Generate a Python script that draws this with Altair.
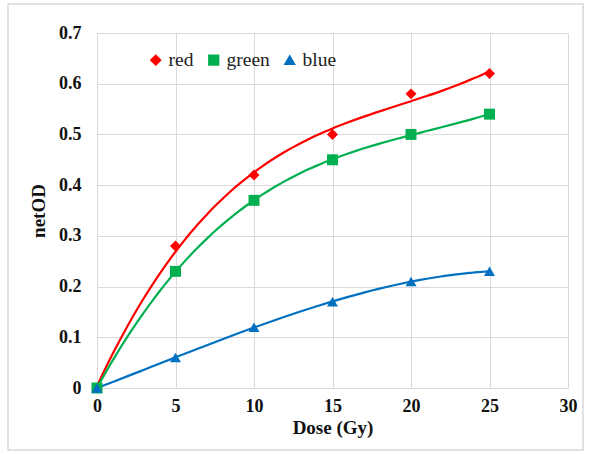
import altair as alt
import pandas as pd

dose = [0, 5, 10, 15, 20, 25]
red = [0.0, 0.28, 0.42, 0.50, 0.58, 0.62]
green = [0.0, 0.23, 0.37, 0.45, 0.50, 0.54]
blue = [0.0, 0.06, 0.12, 0.17, 0.21, 0.23]
series_names = ["red", "green", "blue"]
series_colors = ["#ff0000", "#00b050", "#0070c0"]
series_shapes = ["diamond", "square", "triangle-up"]

rows = []
for name, vals in zip(series_names, [red, green, blue]):
    for d, v in zip(dose, vals):
        rows.append({"dose": d, "netOD": v, "series": name})
df = pd.DataFrame(rows)

FONT = "Liberation Serif"

legend = alt.Legend(title=None, orient="none", direction="horizontal",
                    legendX=49, legendY=17, symbolSize=95,
                    labelFont=FONT, labelFontSize=19.5, labelColor="#222222",
                    columnPadding=10, labelOffset=3)

color_scale = alt.Scale(domain=series_names, range=series_colors)
xenc = alt.X("dose:Q", scale=alt.Scale(domain=[0, 30], nice=False),
             axis=alt.Axis(values=[0, 5, 10, 15, 20, 25, 30], title="Dose (Gy)"))
yenc = alt.Y("netOD:Q", scale=alt.Scale(domain=[0, 0.7], nice=False),
             axis=alt.Axis(values=[0, 0.1, 0.2, 0.3, 0.4, 0.5, 0.6, 0.7], title="netOD",
                           labelExpr="datum.value == 0 ? '0' : format(datum.value, '.1f')"))

lines = alt.Chart(df).transform_regression(
    "dose", "netOD", groupby=["series"], method="poly", order=3, extent=[0, 25]
).mark_line(strokeWidth=2.2, interpolate="monotone").encode(
    x=xenc, y=yenc,
    color=alt.Color("series:N", scale=color_scale, legend=legend),
)

points = alt.Chart(df).mark_point(filled=True, opacity=1, size=120).encode(
    x=xenc, y=yenc,
    color=alt.Color("series:N", scale=color_scale, legend=legend),
    shape=alt.Shape("series:N", scale=alt.Scale(domain=series_names, range=series_shapes),
                    legend=legend),
)

border = alt.Chart(pd.DataFrame({"a": [0]})).mark_rect(
    fill=None, stroke="#d9d9d9", strokeWidth=1.5, clip=False
).encode(x=alt.value(-89), x2=alt.value(486), y=alt.value(-29), y2=alt.value(417))

chart = alt.layer(border, lines, points).properties(
    width=471, height=355,
    autosize=alt.AutoSizeParams(type="none"),
    padding={"left": 97, "top": 33, "right": 23, "bottom": 66},
).configure_view(stroke=None).configure_axis(
    grid=True, gridColor="#d9d9d9", gridWidth=1, domain=False, ticks=False, labelFlush=False,
    labelFont=FONT, labelFontSize=18, labelFontWeight="bold", labelColor="#111111",
    titleFont=FONT, titleFontSize=19, titleFontWeight="bold", titleColor="#111111",
).configure_axisX(labelPadding=9, titlePadding=3).configure_axisY(labelPadding=16, titlePadding=10)

chart.save("out.html", embed_options={"renderer": "svg", "actions": False})
